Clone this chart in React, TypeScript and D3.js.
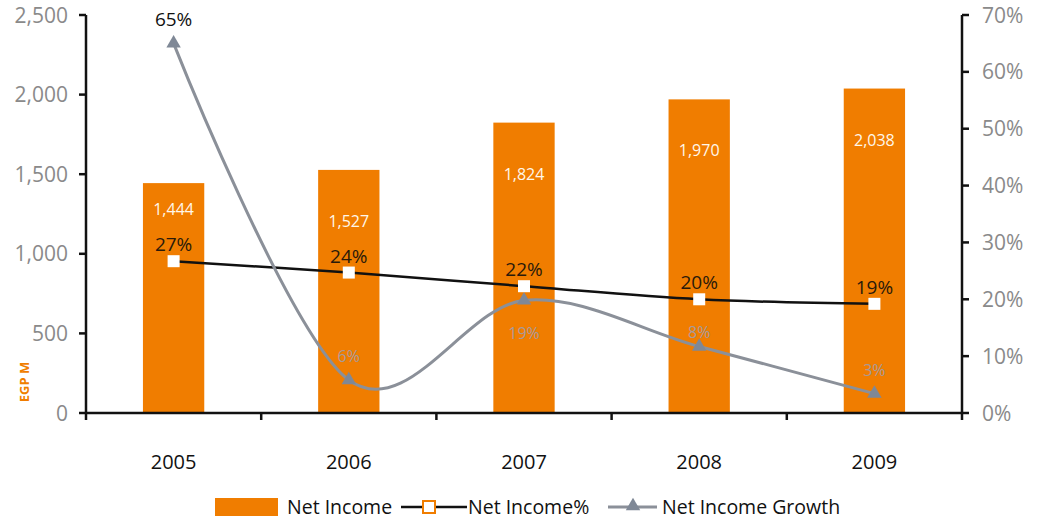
import React from "react";
import * as d3 from "d3";

const years = ["2005", "2006", "2007", "2008", "2009"];
const netIncome = [1444, 1527, 1824, 1970, 2038];
const netIncomeLabels = ["1,444", "1,527", "1,824", "1,970", "2,038"];
const netIncomePct = [26.7, 24.7, 22.3, 20.0, 19.2];
const netIncomePctLabels = ["27%", "24%", "22%", "20%", "19%"];
const growth = [65, 5.8, 19.8, 11.7, 3.4];
const growthLabels = ["65%", "6%", "19%", "8%", "3%"];
const leftTicks = [0, 500, 1000, 1500, 2000, 2500];
const rightTicks = [0, 10, 20, 30, 40, 50, 60, 70];

const W = 1039;
const H = 522;
const M = { left: 86, right: 962, top: 15, bottom: 413 };
const FONT = "'Open Sans', sans-serif";
const ORANGE = "#f07d00";
const GREY = "#8b9099";
const TRI = "#7f8896";

export default function App() {
  const x = d3.scaleBand<string>().domain(years).range([M.left, M.right]).paddingInner(0.65).paddingOuter(0.325);
  const band = d3.scaleBand<string>().domain(years).range([M.left, M.right]);
  const yL = d3.scaleLinear().domain([0, 2500]).range([M.bottom, M.top]);
  const yR = d3.scaleLinear().domain([0, 70]).range([M.bottom, M.top]);
  const cx = (i: number) => (x(years[i]) as number) + x.bandwidth() / 2;

  const line = d3
    .line<number>()
    .x((_, i) => cx(i))
    .y((d) => yR(d))
    .curve(d3.curveCardinal.tension(0));

  const tri = d3.symbol().type(d3.symbolTriangle).size(90)();

  const boundaries = years.map((y) => band(y) as number).concat([M.right]);

  return (
    <svg width={W} height={H} style={{ position: "absolute", left: 0, top: 0, background: "#fff" }} fontFamily={FONT}>
      {/* bars */}
      {netIncome.map((v, i) => (
        <rect key={"b" + i} x={x(years[i])} y={yL(v)} width={x.bandwidth()} height={M.bottom - yL(v)} fill={ORANGE} />
      ))}
      {/* bar labels */}
      {netIncome.map((v, i) => {
        const ly = Math.min(yL(v) + 57, yR(netIncomePct[i]) - 46);
        return (
          <text key={"bl" + i} x={cx(i)} y={ly} textAnchor="middle" fontSize={16} fill="#fff7ea">
            {netIncomeLabels[i]}
          </text>
        );
      })}
      {/* net income % line */}
      <path d={line(netIncomePct) || ""} fill="none" stroke="#111" strokeWidth={2.5} />
      {/* growth line */}
      <path d={line(growth) || ""} fill="none" stroke={GREY} strokeWidth={3} />
      {growth.map((v, i) => (
        <path key={"t" + i} d={tri || ""} transform={`translate(${cx(i)},${yR(v)})`} fill={TRI} />
      ))}
      {netIncomePct.map((v, i) => (
        <rect key={"s" + i} x={cx(i) - 6} y={yR(v) - 6} width={12} height={12} fill="#fff" />
      ))}
      {/* pct labels */}
      {netIncomePct.map((v, i) => (
        <text key={"pl" + i} x={cx(i)} y={yR(v) - 10} textAnchor="middle" fontSize={19} fill="#2a1a0a">
          {netIncomePctLabels[i]}
        </text>
      ))}
      {/* growth labels */}
      {growth.map((v, i) => {
        const first = i === 0;
        const below = i === 2;
        const ly = first ? yR(v) - 17 : below ? yR(v) + 39 : i === 3 ? yR(v) - 8 : yR(v) - 18;
        return (
          <text key={"gl" + i} x={cx(i)} y={ly} textAnchor="middle" fontSize={first ? 19 : 16} fill={first ? "#111" : "#a79a9a"}>
            {growthLabels[i]}
          </text>
        );
      })}
      {/* axes */}
      <line x1={M.left} x2={M.left} y1={M.top} y2={M.bottom} stroke="#111" strokeWidth={2.5} />
      <line x1={M.right} x2={M.right} y1={M.top} y2={M.bottom} stroke="#111" strokeWidth={2.5} />
      <line x1={M.left} x2={M.right} y1={M.bottom} y2={M.bottom} stroke="#111" strokeWidth={2.5} />
      {leftTicks.map((t) => (
        <g key={"lt" + t}>
          <line x1={M.left - 7} x2={M.left} y1={yL(t)} y2={yL(t)} stroke="#111" strokeWidth={2.5} />
          <text x={M.left - 18} y={yL(t)} dy="0.36em" textAnchor="end" fontSize={21} fill="#8a8a8a">
            {d3.format(",")(t)}
          </text>
        </g>
      ))}
      {rightTicks.map((t) => (
        <g key={"rt" + t}>
          <line x1={M.right} x2={M.right + 7} y1={yR(t)} y2={yR(t)} stroke="#111" strokeWidth={2.5} />
          <text x={M.right + 20} y={yR(t)} dy="0.36em" textAnchor="start" fontSize={21} fill="#8a8a8a">
            {t + "%"}
          </text>
        </g>
      ))}
      {boundaries.map((b, i) => (
        <line key={"xt" + i} x1={b} x2={b} y1={M.bottom} y2={M.bottom + 7} stroke="#111" strokeWidth={2.5} />
      ))}
      {years.map((y, i) => (
        <text key={"yl" + i} x={cx(i)} y={469} textAnchor="middle" fontSize={20} fill="#111">
          {y}
        </text>
      ))}
      <text transform={`translate(29,${382}) rotate(-90)`} textAnchor="middle" fontSize={13} fontWeight="bold" fill={ORANGE}>
        EGP M
      </text>
      {/* legend */}
      <g>
        <rect x={215} y={498} width={63} height={18} fill={ORANGE} />
        <text x={287} y={514} fontSize={19.5} fill="#111">Net Income</text>
        <line x1={401} x2={467} y1={507} y2={507} stroke="#111" strokeWidth={2.5} />
        <rect x={423} y={501} width={12} height={12} fill="#fff" stroke={ORANGE} strokeWidth={2} />
        <text x={468} y={514} fontSize={19.5} fill="#111">Net Income%</text>
        <line x1={608} x2={657} y1={507} y2={507} stroke={GREY} strokeWidth={3} />
        <path d={tri || ""} transform="translate(633,506)" fill={TRI} />
        <text x={662} y={514} fontSize={19.5} fill="#111">Net Income Growth</text>
      </g>
    </svg>
  );
}
